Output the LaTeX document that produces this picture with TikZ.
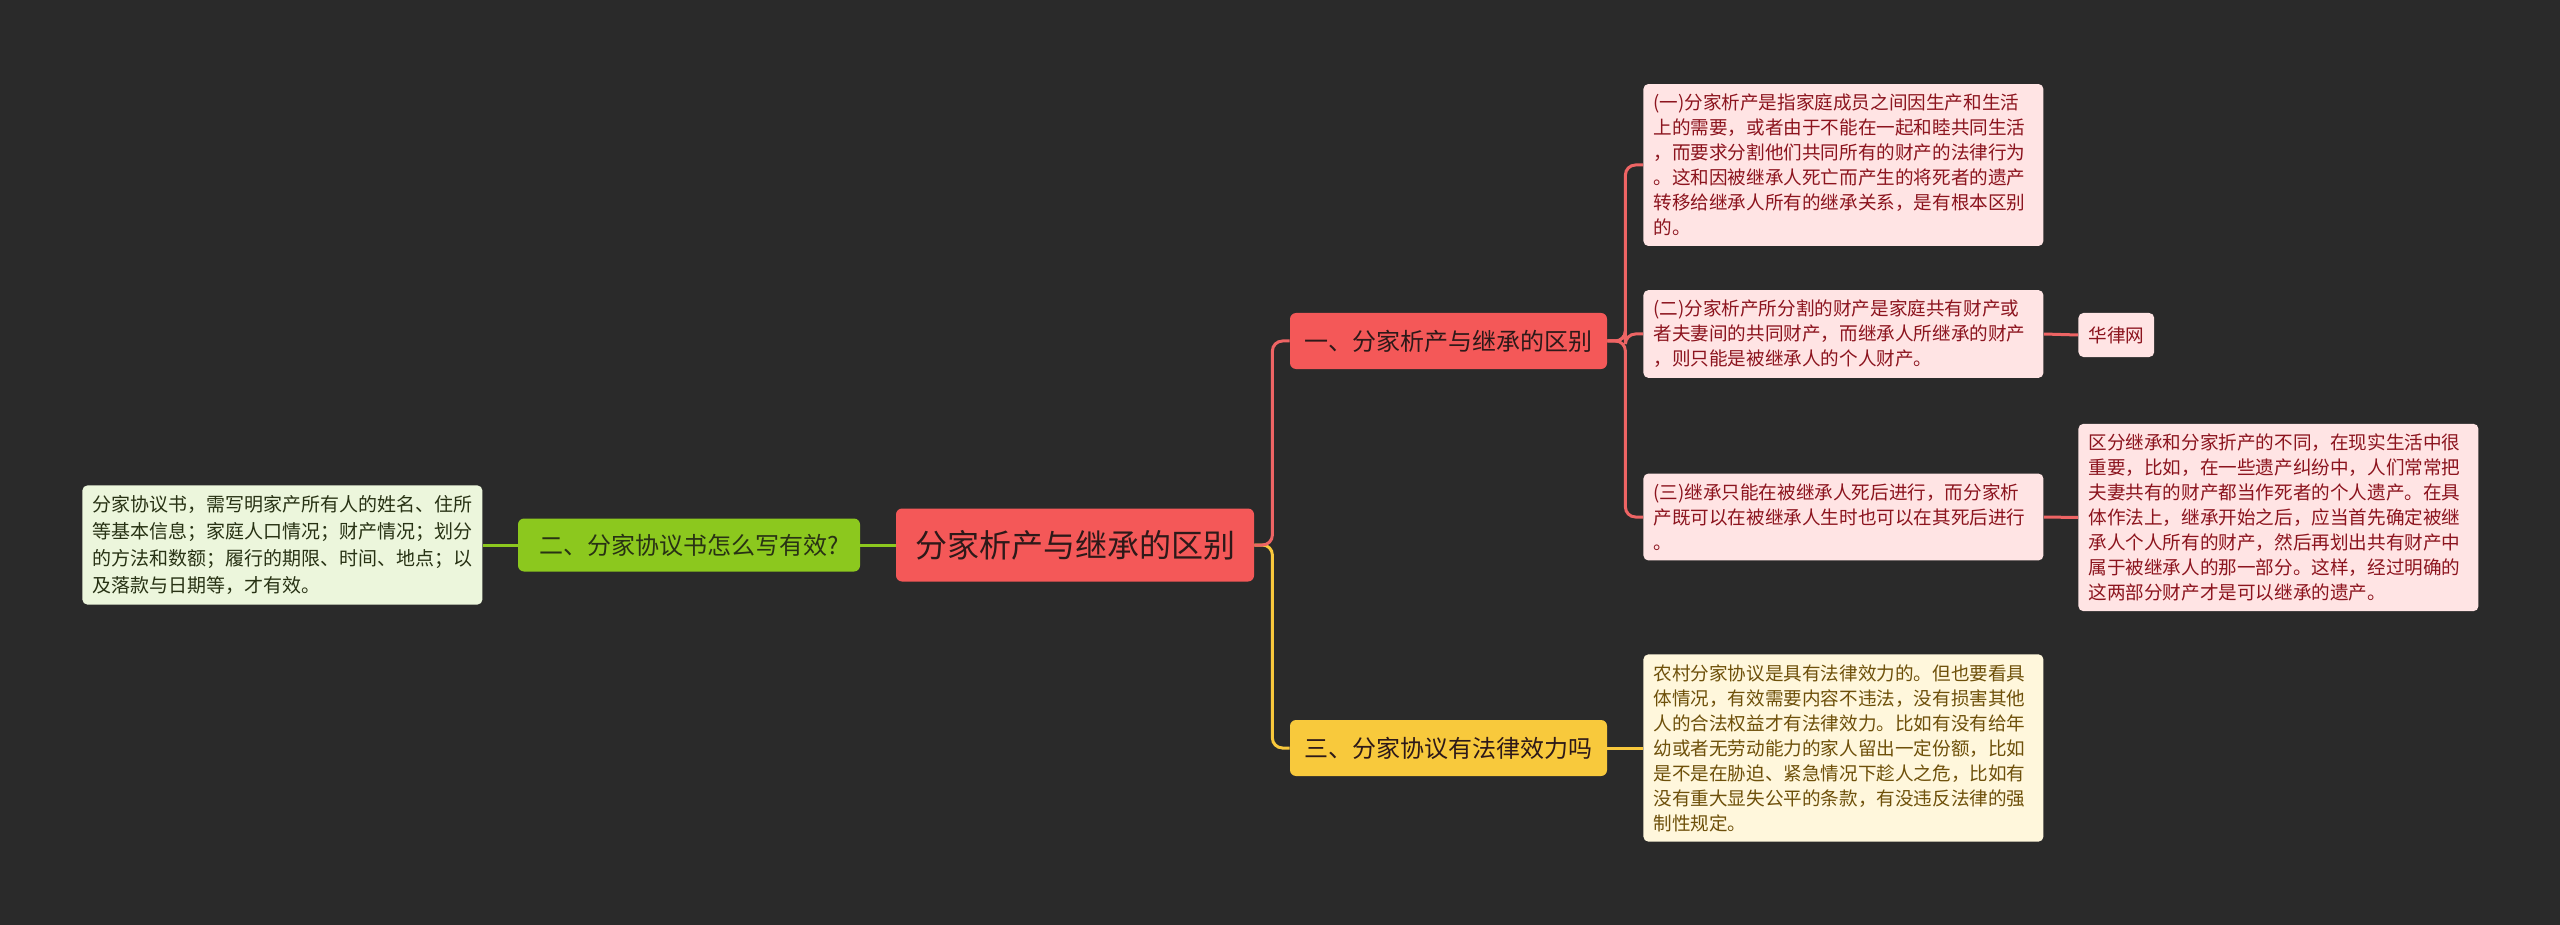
\documentclass[tikz,border=0pt]{standalone}
\usepackage{fontspec}
\newfontfamily\cjk{Noto Sans CJK SC}
\begin{document}
\begin{tikzpicture}[x=0.5pt,y=-0.5pt,
  root/.style={fill=rootred,rounded corners=3pt,minimum width=179pt,minimum height=36.5pt,inner sep=0pt,font=\cjk\fontsize{16}{20}\selectfont,text=darktext},
  topic/.style={rounded corners=3pt,minimum width=158.5pt,minimum height=28pt,inner sep=0pt,font=\cjk\fontsize{12}{15}\selectfont,text=darktext},
  leaf/.style={rounded corners=2.5pt,text width=190pt,inner xsep=5pt,inner ysep=5pt,align=left,anchor=west,font=\cjk\fontsize{9.3}{12.5}\selectfont},
  link/.style={line width=1.5pt,rounded corners=5pt}]

\definecolor{bgdark}{RGB}{42,42,42}
\definecolor{rootred}{RGB}{244,88,88}
\definecolor{darktext}{RGB}{45,25,25}
\definecolor{pinkleaf}{RGB}{255,228,228}
\definecolor{redtext}{RGB}{140,20,30}
\definecolor{redline}{RGB}{238,100,100}
\definecolor{goldnode}{RGB}{248,201,60}
\definecolor{goldleaf}{RGB}{255,247,220}
\definecolor{goldtext}{RGB}{110,80,10}
\definecolor{goldline}{RGB}{248,200,60}
\definecolor{limenode}{RGB}{140,200,30}
\definecolor{limeleaf}{RGB}{236,246,220}
\definecolor{limetext}{RGB}{40,50,20}

\fill[bgdark] (0,0) rectangle (2560,925);
\useasboundingbox (0,0) rectangle (2560,925);

% centre and main branches
\node[root] (c) at (1075,545) {分家析产与继承的区别};
\node[topic,fill=rootred] (b1) at (1448.5,341) {一、分家析产与继承的区别};
\node[topic,fill=goldnode] (b3) at (1448.5,748) {三、分家协议有法律效力吗};
\node[topic,fill=limenode,minimum width=171pt,minimum height=26.5pt,text=limetext] (g) at (689,545) {二、分家协议书怎么写有效?};

% leaves
\node[leaf,fill=pinkleaf,text=redtext] (l1) at (1643,165) {(一)分家析产是指家庭成员之间因生产和生活\\上的需要，或者由于不能在一起和睦共同生活\\，而要求分割他们共同所有的财产的法律行为\\。这和因被继承人死亡而产生的将死者的遗产\\转移给继承人所有的继承关系，是有根本区别\\的。};
\node[leaf,fill=pinkleaf,text=redtext] (l2) at (1643,334) {(二)分家析产所分割的财产是家庭共有财产或\\者夫妻间的共同财产，而继承人所继承的财产\\，则只能是被继承人的个人财产。};
\node[leaf,fill=pinkleaf,text=redtext] (l3) at (1643,517) {(三)继承只能在被继承人死后进行，而分家析\\产既可以在被继承人生时也可以在其死后进行\\。};
\node[leaf,fill=pinkleaf,text=redtext,text width=,minimum height=22pt] (hl) at (2078,335) {华律网};
\node[leaf,fill=pinkleaf,text=redtext] (l5) at (2078,517.5) {区分继承和分家折产的不同，在现实生活中很\\重要，比如，在一些遗产纠纷中，人们常常把\\夫妻共有的财产都当作死者的个人遗产。在具\\体作法上，继承开始之后，应当首先确定被继\\承人个人所有的财产，然后再划出共有财产中\\属于被继承人的那一部分。这样，经过明确的\\这两部分财产才是可以继承的遗产。};
\node[leaf,fill=goldleaf,text=goldtext] (yl) at (1643,748) {农村分家协议是具有法律效力的。但也要看具\\体情况，有效需要内容不违法，没有损害其他\\人的合法权益才有法律效力。比如有没有给年\\幼或者无劳动能力的家人留出一定份额，比如\\是不是在胁迫、紧急情况下趁人之危，比如有\\没有重大显失公平的条款，有没违反法律的强\\制性规定。};
\node[leaf,fill=limeleaf,text=limetext,font=\cjk\fontsize{9.5}{13.5}\selectfont] (gl) at (82,545) {分家协议书，需写明家产所有人的姓名、住所\\等基本信息；家庭人口情况；财产情况；划分\\的方法和数额；履行的期限、时间、地点；以\\及落款与日期等，才有效。};

% connectors
\draw[link,goldline] (c.east) -- ++(18,0) |- (b3.west);
\draw[link,redline] (c.east) -- ++(18,0) |- (b1.west);
\draw[link,limenode] (c.west) -- (g.east);
\draw[link,limenode] (g.west) -- (gl.east);
\draw[link,redline] (b1.east) -- ++(18,0) |- (l1.west);
\draw[link,redline] (b1.east) -- ++(18,0) |- (l2.west);
\draw[link,redline] (b1.east) -- ++(18,0) |- (l3.west);
\draw[link,redline] (l2.east) -- (hl.west);
\draw[link,redline] (l3.east) -- (l5.west);
\draw[link,goldline] (b3.east) -- (yl.west);
\end{tikzpicture}
\end{document}
